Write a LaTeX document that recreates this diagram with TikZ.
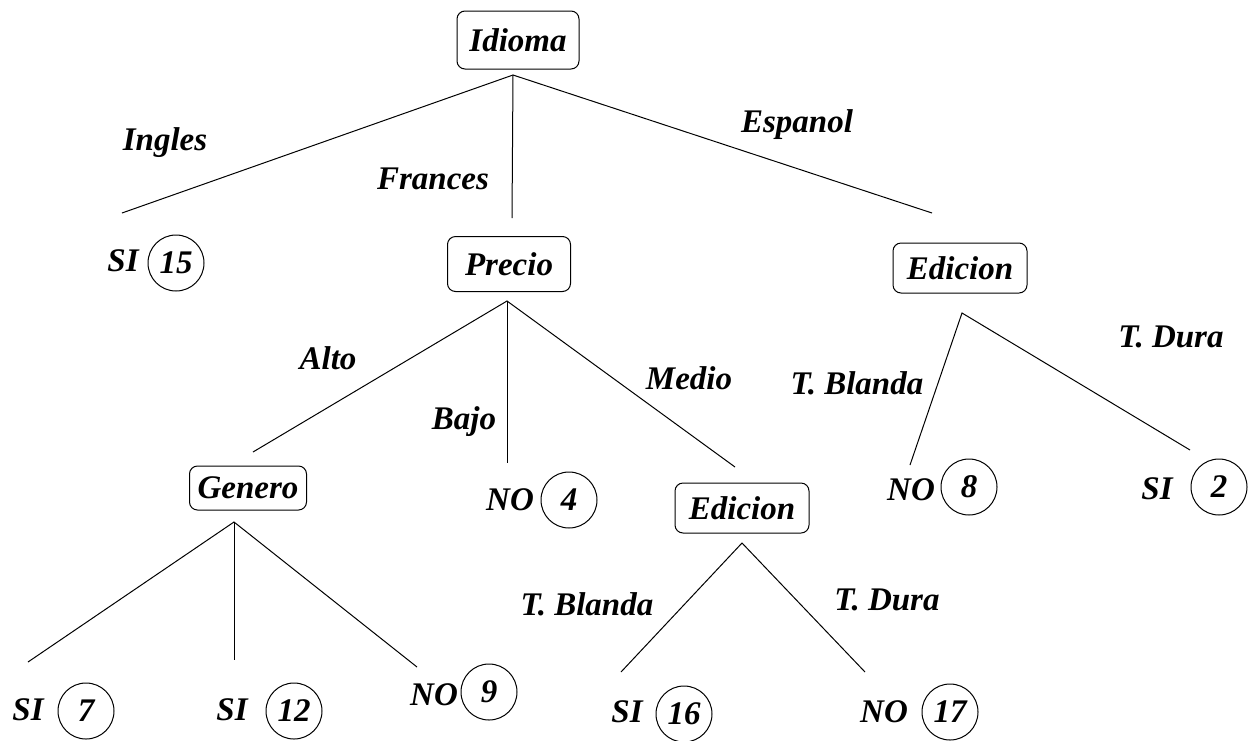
\documentclass[tikz,border=0pt]{standalone}
\usepackage{fontspec}
\setmainfont{Liberation Serif}
\begin{document}
\begin{tikzpicture}[x=0.5pt,y=-0.5pt,
  every node/.style={font=\fontsize{16.5}{20}\selectfont\bfseries\itshape, inner sep=0pt},
  attr/.style={draw, rounded corners=4pt, line width=0.5pt, minimum height=26pt},
  leafc/.style={draw, circle, line width=0.5pt, minimum size=28pt},
  edge/.style={line width=0.5pt},
  lbl/.style={}]
\useasboundingbox (0,0) rectangle (1258,740);
% attribute boxes
\node[attr, minimum width=61pt, minimum height=29pt] (idioma) at (518,40) {Idioma};
\node[attr, minimum width=61.5pt, minimum height=27.5pt] (precio) at (509,264) {Precio};
\node[attr, minimum width=67pt, minimum height=25pt] (edR) at (960,268) {Edicion};
\node[attr, minimum width=58.5pt, minimum height=22pt] (genero) at (248,488) {Genero};
\node[attr, minimum width=67pt, minimum height=25pt] (edM) at (742,508) {Edicion};
% leaves
\node (si15) at (123,261) {SI};
\node[leafc] (c15) at (176,263) {15};
\node (no4) at (510,500) {NO};
\node[leafc] (c4) at (569,500) {4};
\node (no8) at (911,490) {NO};
\node[leafc] (c8) at (969,487) {8};
\node (si2) at (1157,489) {SI};
\node[leafc] (c2) at (1219,487) {2};
\node (si7) at (28,710) {SI};
\node[leafc] (c7) at (86,711) {7};
\node (si12) at (232,710) {SI};
\node[leafc] (c12) at (294,711) {12};
\node (no9) at (434,695) {NO};
\node[leafc] (c9) at (489,692) {9};
\node (si16) at (627,712) {SI};
\node[leafc] (c16) at (684,714) {16};
\node (no17) at (884,712) {NO};
\node[leafc] (c17) at (950,712) {17};
% connector end points
\coordinate (i0) at (513,75);
\coordinate (i1) at (122,213);
\coordinate (i2) at (512,218);
\coordinate (i3) at (932,213);
\coordinate (p0) at (507,301);
\coordinate (p1) at (253,452);
\coordinate (p2) at (507,463);
\coordinate (p3) at (735,467);
\coordinate (e0) at (962,313);
\coordinate (e1) at (910,465);
\coordinate (e2) at (1190,450);
\coordinate (g0) at (234,522);
\coordinate (g1) at (28,662);
\coordinate (g2) at (234,660);
\coordinate (g3) at (417,667);
\coordinate (m0) at (742,543);
\coordinate (m1) at (621,672);
\coordinate (m2) at (865,672);
% connectors
\draw[edge] (i1) -- (i0) -- (i3);
\draw[edge] (i0) -- (i2);
\draw[edge] (p1) -- (p0) -- (p3);
\draw[edge] (p0) -- (p2);
\draw[edge] (e1) -- (e0) -- (e2);
\draw[edge] (g1) -- (g0) -- (g3);
\draw[edge] (g0) -- (g2);
\draw[edge] (m1) -- (m0) -- (m2);
% labels
\node[lbl] (lIng) at (165,143) {Ingles};
\node[lbl] (lFra) at (433,179) {Frances};
\node[lbl] (lEsp) at (797,125) {Espanol};
\node[lbl] (lAlt) at (328,358) {Alto};
\node[lbl] (lBaj) at (464,422) {Bajo};
\node[lbl] (lMed) at (689,378) {Medio};
\node[lbl] (lTB1) at (857,383) {T. Blanda};
\node[lbl] (lTD1) at (1171,337) {T. Dura};
\node[lbl] (lTB2) at (587,604) {T. Blanda};
\node[lbl] (lTD2) at (887,600) {T. Dura};
\end{tikzpicture}
\end{document}
